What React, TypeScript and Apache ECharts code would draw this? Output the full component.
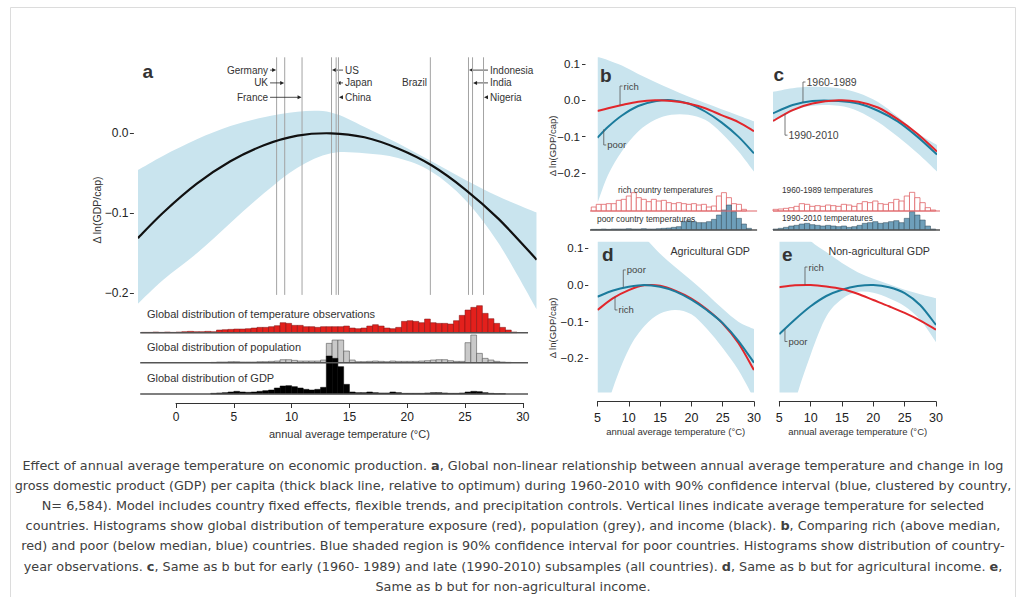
import React, { useEffect, useRef } from 'react';
import * as echarts from 'echarts';

// ---------------- data ----------------
// Panel a: global response function (temperature °C -> Δ ln(GDP/cap))
const A_TEMPS = [-3.3, -1.1, 1.8, 4.7, 7.6, 10.5, 13.4, 16.3, 19.2, 22.1, 25.0, 27.9, 31.2];
const A_RESPONSE = [-0.131, -0.099, -0.063, -0.035, -0.015, -0.003, 0.0, -0.005, -0.019, -0.04, -0.07, -0.107, -0.158];
const A_UPPER = [-0.046, -0.028, -0.0075, 0.009, 0.02, 0.027, 0.026, 0.008, -0.0125, -0.035, -0.058, -0.079, -0.099];
const A_LOWER = [-0.213, -0.183, -0.15, -0.112, -0.075, -0.043, -0.025, -0.025, -0.031, -0.048, -0.083, -0.1375, -0.22];
const A_Y_TICKS = [0, -0.1, -0.2];
const BD_Y_TICKS = [0.1, 0, -0.1, -0.2];

const COUNTRIES = ['Germany', 'UK', 'France', 'US', 'Japan', 'China', 'Brazil', 'Indonesia', 'India', 'Nigeria'];
const COUNTRY_TEMPS = [8.7, 9.4, 10.9, 13.45, 13.85, 14.05, 22.0, 25.3, 25.65, 26.6];

// Panel a histograms: 0.5 °C bins starting at -3 °C (relative heights)
const HIST_START = -3;
const HIST_BIN = 0.5;
const HIST_TEMPERATURE = [
  1, 1, 2, 1, 2, 1, 2, 3, 4, 3, 3, 4, 3, 8, 9, 10, 11, 11, 12, 14, 16, 16, 18, 21,
  30, 28, 22, 22, 18, 18, 16, 18, 18, 18, 18, 20, 14, 12, 14, 20, 24, 20, 14, 12, 16, 34, 36, 34,
  30, 41, 30, 28, 28, 26, 36, 52, 68, 76, 81, 58, 42, 28, 16, 8, 2, 0,
];
const HIST_POPULATION = [
  0, 0, 0, 0, 0, 0, 0, 0, 0, 0, 0, 0, 1, 2, 2, 3, 3, 2, 2, 2, 3, 3, 4, 5,
  9, 9, 7, 5, 5, 5, 5, 8, 58, 68, 68, 35, 8, 3, 3, 4, 5, 4, 3, 5, 4, 4, 4, 4,
  5, 6, 8, 9, 9, 6, 4, 4, 60, 83, 28, 13, 8, 4, 2, 1, 0, 0,
];
const HIST_GDP = [
  0, 0, 0, 0, 0, 0, 0, 0, 0, 0, 0, 0, 2, 3, 4, 6, 8, 6, 5, 6, 8, 10, 12, 18,
  24, 25, 22, 18, 14, 12, 14, 20, 114, 107, 82, 29, 6, 4, 4, 6, 4, 3, 3, 6, 4, 2, 2, 2,
  2, 3, 4, 4, 3, 2, 2, 3, 6, 8, 7, 4, 2, 1, 1, 0, 0, 0,
];

// Panel b: rich vs poor
const B_TEMPS = [5, 6.7, 8.9, 11.5, 14.2, 16.8, 19.5, 22.2, 24.8, 27.5, 30];
const B_POOR = [-0.103, -0.073, -0.042, -0.016, -0.003, 0.0, -0.009, -0.031, -0.061, -0.1, -0.146];
const B_RICH = [-0.03, -0.022, -0.013, -0.004, 0.0, -0.002, -0.009, -0.022, -0.041, -0.06, -0.085];
const B_UPPER = [0.12, 0.11, 0.095, 0.072, 0.05, 0.03, 0.01, -0.008, -0.025, -0.042, -0.058];
const B_LOWER = [-0.283, -0.205, -0.14, -0.086, -0.054, -0.04, -0.04, -0.054, -0.09, -0.14, -0.196];
const B_HIST_START = 4;
const BC_HIST_BIN = 0.8;
const B_HIST_RICH = [12, 20, 20, 22, 22, 32, 35, 45, 55, 40, 35, 28, 35, 30, 32, 25, 22, 25, 22, 20, 22, 18, 20, 12, 15, 45, 55, 40, 22, 20, 5];
const B_HIST_POOR = [2, 2, 3, 2, 3, 3, 3, 4, 3, 3, 4, 3, 3, 4, 5, 6, 8, 10, 25, 28, 25, 22, 22, 25, 32, 45, 60, 75, 55, 35, 18, 5];

// Panel c: early vs late period
const C_TEMPS = [5, 8, 11, 15, 18, 21, 24, 27, 30];
const C_EARLY = [-0.036, -0.013, -0.002, -0.002, -0.009, -0.029, -0.058, -0.1, -0.149];
const C_LATE = [-0.057, -0.027, -0.009, 0.0, -0.004, -0.02, -0.052, -0.092, -0.141];
const C_UPPER = [0.023, 0.033, 0.037, 0.033, 0.02, -0.005, -0.045, -0.09, -0.123];
const C_LOWER = [-0.06, -0.03, -0.015, -0.015, -0.03, -0.06, -0.1, -0.145, -0.196];
const C_HIST_START = 5;
const C_HIST_EARLY = [5, 6, 8, 10, 14, 22, 20, 14, 16, 14, 18, 16, 14, 20, 18, 14, 22, 28, 25, 30, 22, 20, 25, 35, 30, 45, 56, 40, 25, 10, 3];
const C_HIST_LATE = [3, 5, 8, 12, 14, 18, 20, 16, 14, 12, 14, 12, 10, 12, 8, 10, 14, 20, 22, 25, 20, 22, 25, 28, 22, 35, 55, 45, 30, 12, 3];

// Panel d: agricultural GDP
const DE_TEMPS = [5, 7.5, 10, 12.5, 15, 17.5, 20, 22.5, 25, 27.5, 30];
const D_POOR = [-0.032, -0.015, -0.005, 0.0, -0.005, -0.018, -0.04, -0.069, -0.104, -0.152, -0.212];
const D_RICH = [-0.068, -0.036, -0.014, -0.001, -0.002, -0.016, -0.037, -0.067, -0.105, -0.158, -0.232];
const D_UPPER = [0.2, 0.19, 0.17, 0.13, 0.085, 0.048, 0.012, -0.025, -0.065, -0.1, -0.12];
const D_LOWER = [-0.42, -0.28, -0.175, -0.112, -0.078, -0.068, -0.08, -0.12, -0.172, -0.232, -0.31];

// Panel e: non-agricultural GDP
const E_RICH = [-0.006, -0.001, 0.0, -0.004, -0.011, -0.024, -0.041, -0.058, -0.076, -0.097, -0.122];
const E_POOR = [-0.134, -0.094, -0.058, -0.03, -0.013, -0.003, 0.0, -0.006, -0.022, -0.055, -0.109];
const E_UPPER = [0.22, 0.17, 0.12, 0.09, 0.06, 0.035, 0.017, 0.002, -0.013, -0.025, -0.036];
const E_LOWER = [-0.5, -0.32, -0.19, -0.086, -0.038, -0.019, -0.021, -0.036, -0.058, -0.095, -0.156];

// curve annotations: [temperature, value on curve, value at label]
const B_NOTE_TEXT = ['rich', 'poor'];
const B_NOTES = [[8.6, -0.014, 0.039], [6.0, -0.08, -0.123]];
const C_NOTE_TEXT = ['1960-1989', '1990-2010'];
const C_NOTES = [[9.57, -0.007, 0.05], [6.83, -0.038, -0.096]];
const D_NOTE_TEXT = ['poor', 'rich'];
const D_NOTES = [[9.12, -0.006, 0.041], [7.8, -0.032, -0.068]];
const E_NOTE_TEXT = ['rich', 'poor'];
const E_NOTES = [[9.1, 0.0, 0.049], [5.9, -0.12, -0.154]];

const CAPTION_LINES = [
  'Effect of annual average temperature on economic production. {b|a}, Global non-linear relationship between annual average temperature and change in log',
  'gross domestic product (GDP) per capita (thick black line, relative to optimum) during 1960-2010 with 90% confidence interval (blue, clustered by country,',
  'N= 6,584). Model includes country fixed effects, flexible trends, and precipitation controls. Vertical lines indicate average temperature for selected',
  'countries. Histograms show global distribution of temperature exposure (red), population (grey), and income (black). {b|b}, Comparing rich (above median,',
  'red) and poor (below median, blue) countries. Blue shaded region is 90% confidence interval for poor countries. Histograms show distribution of country-',
  'year observations. {b|c}, Same as b but for early (1960- 1989) and late (1990-2010) subsamples (all countries). {b|d}, Same as b but for agricultural income. {b|e},',
  'Same as b but for non-agricultural income.',
];

// ---------------- layout / style ----------------
const F = "'Liberation Sans', Arial, Helvetica, sans-serif";
const CF = "'DejaVu Sans', Verdana, sans-serif";
const BAND = '#c9e4ee';
const POOR_C = '#1b7b9c';
const RICH_C = '#e2262b';
const TXT = '#333';

const COUNTRY_ROW = [0, 1, 2, 0, 1, 2, 1, 0, 1, 2];
const COUNTRY_SIDE = ['L', 'L', 'L', 'R', 'R', 'R', 'N', 'R', 'R', 'R'];
const COUNTRY_ANCHOR_T = [7.96, 7.96, 7.96, 14.62, 14.62, 14.62, 21.71, 27.16, 27.16, 27.16];
const LABEL_ROW_V = [0.079, 0.063, 0.045];
const COUNTRY_LINE_TOP = 0.095;
const COUNTRY_LINE_BOTTOM = -0.202;

function fmtTick(v: number) {
  const s = Math.abs(v).toFixed(1);
  return v < -1e-9 ? '\u2212' + s : s;
}

// Catmull-Rom -> cubic bezier segments through screen points (rendering only)
function bezierThrough(pts: number[][], start: boolean) {
  let d = start ? `M${pts[0][0]},${pts[0][1]}` : `L${pts[0][0]},${pts[0][1]}`;
  for (let i = 0; i < pts.length - 1; i++) {
    const p0 = pts[Math.max(0, i - 1)];
    const p1 = pts[i];
    const p2 = pts[i + 1];
    const p3 = pts[Math.min(pts.length - 1, i + 2)];
    const c1x = p1[0] + (p2[0] - p0[0]) / 6;
    const c1y = p1[1] + (p2[1] - p0[1]) / 6;
    const c2x = p2[0] - (p3[0] - p1[0]) / 6;
    const c2y = p2[1] - (p3[1] - p1[1]) / 6;
    d += ` C${c1x},${c1y} ${c2x},${c2y} ${p2[0]},${p2[1]}`;
  }
  return d;
}

function clipRect(params: any) {
  const cs = params.coordSys;
  return { type: 'rect', shape: { x: cs.x, y: cs.y - 1.5, width: cs.width, height: cs.height + 3 } };
}

function bandSeries(grid: number, temps: number[], lower: number[], upper: number[]) {
  return {
    type: 'custom', xAxisIndex: grid, yAxisIndex: grid, silent: true, z: 1,
    data: [[temps[0], upper[0]]],
    renderItem: (params: any, api: any) => {
      const up = temps.map((t, i) => api.coord([t, upper[i]]));
      const lo = temps.map((t, i) => api.coord([t, lower[i]])).reverse();
      const cs = params.coordSys;
      return {
        type: 'path',
        shape: { pathData: bezierThrough(up, true) + ' ' + bezierThrough(lo, false) + ' Z' },
        style: { fill: BAND, stroke: 'none' },
        clipPath: { type: 'rect', shape: { x: cs.x, y: cs.y, width: cs.width, height: cs.height } },
      };
    },
  };
}

function curveSeries(grid: number, temps: number[], vals: number[], color: string, width: number, z = 4) {
  return {
    type: 'custom', xAxisIndex: grid, yAxisIndex: grid, silent: true, z,
    data: [[temps[0], vals[0]]],
    renderItem: (params: any, api: any) => {
      const pts = temps.map((t, i) => api.coord([t, vals[i]]));
      return {
        type: 'path',
        shape: { pathData: bezierThrough(pts, true) },
        style: { fill: 'none', stroke: color, lineWidth: width, lineCap: 'butt' },
        clipPath: clipRect(params),
      };
    },
  };
}

function histSeries(grid: number, start: number, bin: number, values: number[], fill: string, stroke: string, lw: number) {
  return {
    type: 'custom', xAxisIndex: grid, yAxisIndex: grid, silent: true, z: 2,
    data: values.map((v, i) => [start + i * bin, v]),
    renderItem: (params: any, api: any) => {
      const x0 = api.value(0);
      const v = api.value(1);
      if (!v) return null;
      const a = api.coord([x0, v]);
      const b = api.coord([x0 + bin, 0]);
      return {
        type: 'rect',
        shape: { x: a[0], y: a[1], width: b[0] - a[0], height: b[1] - a[1] },
        style: { fill, stroke, lineWidth: lw },
      };
    },
  };
}

function baselineSeries(grid: number, x0: number, x1: number, color: string, width: number) {
  return {
    type: 'line', xAxisIndex: grid, yAxisIndex: grid, data: [[x0, 0], [x1, 0]], symbol: 'none',
    clip: false, silent: true, z: 3, lineStyle: { color, width },
  };
}

function noteSeries(grid: number, notes: number[][], texts: string[], fontSize: number) {
  return {
    type: 'custom', xAxisIndex: grid, yAxisIndex: grid, silent: true, z: 6,
    data: notes,
    renderItem: (params: any, api: any) => {
      const t = api.value(0);
      const p0 = api.coord([t, api.value(1)]);
      const p1 = api.coord([t, api.value(2)]);
      return {
        type: 'group',
        children: [
          {
            type: 'polyline',
            shape: { points: [p0, p1, [p1[0] + 2.5, p1[1]]] },
            style: { stroke: '#555', lineWidth: 0.8, fill: 'none' },
          },
          {
            type: 'text',
            style: {
              text: texts[params.dataIndex], x: p1[0] + 3.5, y: p1[1],
              align: 'left', textAlign: 'left', verticalAlign: 'middle', textVerticalAlign: 'middle',
              fontSize, fontFamily: F, fill: '#444',
            },
          },
        ],
      };
    },
  };
}

function countrySeries() {
  return {
    type: 'custom', xAxisIndex: 0, yAxisIndex: 0, silent: true, z: 3,
    data: COUNTRY_TEMPS.map((t) => [t, 0]),
    renderItem: (params: any, api: any) => {
      const i = params.dataIndex;
      const t = api.value(0);
      const top = api.coord([t, COUNTRY_LINE_TOP]);
      const bot = api.coord([t, COUNTRY_LINE_BOTTOM]);
      const lx = top[0];
      const y = api.coord([t, LABEL_ROW_V[COUNTRY_ROW[i]]])[1];
      const ax = api.coord([COUNTRY_ANCHOR_T[i], 0])[0];
      const side = COUNTRY_SIDE[i];
      const children: any[] = [
        { type: 'line', shape: { x1: lx, y1: top[1], x2: lx, y2: bot[1] }, style: { stroke: '#a3a3a3', lineWidth: 1 } },
      ];
      const textStyle = {
        text: COUNTRIES[i], y, verticalAlign: 'middle', textVerticalAlign: 'middle',
        fontSize: 10, fontFamily: F, fill: TXT,
      };
      if (side === 'L') {
        children.push({ type: 'text', style: { ...textStyle, x: ax, align: 'right', textAlign: 'right' } });
        children.push({ type: 'line', shape: { x1: ax + 2, y1: y, x2: lx - 3, y2: y }, style: { stroke: '#222', lineWidth: 0.8 } });
        children.push({ type: 'polygon', shape: { points: [[lx - 0.5, y], [lx - 4.5, y - 2], [lx - 4.5, y + 2]] }, style: { fill: '#222' } });
      } else if (side === 'R') {
        children.push({ type: 'text', style: { ...textStyle, x: ax, align: 'left', textAlign: 'left' } });
        children.push({ type: 'line', shape: { x1: ax - 2, y1: y, x2: lx + 3, y2: y }, style: { stroke: '#222', lineWidth: 0.8 } });
        children.push({ type: 'polygon', shape: { points: [[lx + 0.5, y], [lx + 4.5, y - 2], [lx + 4.5, y + 2]] }, style: { fill: '#222' } });
      } else {
        children.push({ type: 'text', style: { ...textStyle, x: ax, align: 'right', textAlign: 'right' } });
      }
      return { type: 'group', children };
    },
  };
}

function text(x: number, y: number, str: string, size: number, opts: any = {}) {
  return {
    type: 'text', x, y, rotation: opts.rotation || 0, silent: true, z: 10,
    style: {
      text: str, fontSize: size, fontFamily: opts.family || F, fontWeight: opts.weight || 'normal',
      fill: opts.color || TXT, align: opts.align || 'left', textAlign: opts.align || 'left',
      verticalAlign: 'middle', textVerticalAlign: 'middle', rich: opts.rich,
    },
  };
}

function buildOption() {
  const grids = [
    { left: 137.9, top: 57.3, width: 398.8, height: 264 }, // 0 a curve
    { left: 137.9, top: 292.7, width: 398.8, height: 40 }, // 1 temperature hist
    { left: 137.9, top: 322.7, width: 398.8, height: 40 }, // 2 population hist
    { left: 137.9, top: 354, width: 398.8, height: 40 }, // 3 GDP hist
    { left: 176, top: 402, width: 346.8, height: 1 }, // 4 a axis
    { left: 597.5, top: 57.25, width: 156.5, height: 144.9 }, // 5 b
    { left: 590, top: 186, width: 167.1, height: 25 }, // 6 b rich hist
    { left: 590, top: 205, width: 167.1, height: 25 }, // 7 b poor hist
    { left: 773, top: 57.25, width: 164, height: 144.9 }, // 8 c
    { left: 773, top: 186, width: 167, height: 25 }, // 9 c early hist
    { left: 773, top: 205, width: 167, height: 25 }, // 10 c late hist
    { left: 597.5, top: 241.7, width: 156.5, height: 150.8 }, // 11 d
    { left: 779.3, top: 241.7, width: 156.7, height: 150.8 }, // 12 e
  ];
  const xr = [[-3.3, 31.2], [-3.3, 31.2], [-3.3, 31.2], [-3.3, 31.2], [0, 30], [5, 30], [3.8, 30.5], [3.8, 30.5], [5, 30], [5, 30.45], [5, 30.45], [5, 30], [5, 30]];
  const yr = [[-0.235, 0.095], [0, 120], [0, 120], [0, 120], [0, 1], [-0.28, 0.118], [0, 75], [0, 75], [-0.28, 0.118], [0, 75], [0, 75], [-0.293, 0.118], [-0.293, 0.118]];
  const xAxis: any[] = xr.map((r, i) => ({ type: 'value', gridIndex: i, min: r[0], max: r[1], show: false, axisLine: { onZero: false }, splitLine: { show: false } }));
  const yAxis: any[] = yr.map((r, i) => ({ type: 'value', gridIndex: i, min: r[0], max: r[1], show: false, axisLine: { onZero: false }, splitLine: { show: false } }));

  const xName = 'annual average temperature (\u00B0C)';
  xAxis[4] = {
    type: 'value', gridIndex: 4, min: 0, max: 30, interval: 5, position: 'bottom',
    axisLine: { show: true, onZero: false, lineStyle: { color: '#333', width: 1 } },
    axisTick: { show: true, inside: false, length: 5, lineStyle: { color: '#333' } },
    axisLabel: { fontSize: 12, margin: 8, color: '#222', fontFamily: F },
    splitLine: { show: false },
    name: xName, nameLocation: 'middle', nameGap: 25,
    nameTextStyle: { fontSize: 11, fontFamily: F, color: TXT },
  };
  const deX = (grid: number) => ({
    type: 'value', gridIndex: grid, min: 5, max: 30, interval: 5, position: 'bottom', offset: 9,
    axisLine: { show: true, onZero: false, lineStyle: { color: '#333', width: 1 } },
    axisTick: { show: true, inside: false, length: 5, lineStyle: { color: '#333' } },
    axisLabel: { fontSize: 12.5, margin: 10, color: '#222', fontFamily: F },
    splitLine: { show: false },
    name: xName, nameLocation: 'middle', nameGap: 25,
    nameTextStyle: { fontSize: 9.5, fontFamily: F, color: TXT },
  });
  xAxis[11] = deX(11);
  xAxis[12] = deX(12);

  const yVis = (grid: number, r: number[], ticks: number[], offset: number, size: number, len: number, margin: number) => ({
    type: 'value', gridIndex: grid, min: r[0], max: r[1], position: 'left', offset,
    axisLine: { show: false, onZero: false },
    axisTick: { show: true, length: len, customValues: ticks, lineStyle: { color: '#333' } },
    axisLabel: { customValues: ticks, formatter: fmtTick, fontSize: size, fontFamily: F, color: '#222', margin },
    splitLine: { show: false },
  });
  yAxis[0] = yVis(0, yr[0], A_Y_TICKS, 4, 12, 4, 5.5);
  yAxis[5] = yVis(5, yr[5], BD_Y_TICKS, 12, 11.5, 3.5, 5.5);
  yAxis[11] = yVis(11, yr[11], BD_Y_TICKS, 9.2, 11.5, 3.3, 5);

  const series: any[] = [
    // panel a
    bandSeries(0, A_TEMPS, A_LOWER, A_UPPER),
    countrySeries(),
    curveSeries(0, A_TEMPS, A_RESPONSE, '#111', 2.2),
    histSeries(1, HIST_START, HIST_BIN, HIST_TEMPERATURE, '#e3201c', '#7a0c0c', 0.5),
    histSeries(2, HIST_START, HIST_BIN, HIST_POPULATION, '#c9c9c9', '#555', 0.6),
    histSeries(3, HIST_START, HIST_BIN, HIST_GDP, '#000', '#000', 0.5),
    baselineSeries(1, -3.1, 30.45, '#555', 1.5),
    baselineSeries(2, -3.1, 30.45, '#555', 1.5),
    baselineSeries(3, -3.1, 30.45, '#555', 1.5),
    // panel b
    bandSeries(5, B_TEMPS, B_LOWER, B_UPPER),
    curveSeries(5, B_TEMPS, B_POOR, POOR_C, 2),
    curveSeries(5, B_TEMPS, B_RICH, RICH_C, 2, 5),
    noteSeries(5, B_NOTES, B_NOTE_TEXT, 9.5),
    histSeries(6, B_HIST_START, BC_HIST_BIN, B_HIST_RICH, '#ffffff', '#e06468', 0.8),
    histSeries(7, B_HIST_START, BC_HIST_BIN, B_HIST_POOR, '#6e9fba', '#2d4654', 0.5),
    baselineSeries(6, 3.8, 30.5, '#e06468', 1.2),
    baselineSeries(7, 3.8, 30.5, '#555', 1.5),
    // panel c
    bandSeries(8, C_TEMPS, C_LOWER, C_UPPER),
    curveSeries(8, C_TEMPS, C_EARLY, POOR_C, 2),
    curveSeries(8, C_TEMPS, C_LATE, RICH_C, 2, 5),
    noteSeries(8, C_NOTES, C_NOTE_TEXT, 10.5),
    histSeries(9, C_HIST_START, BC_HIST_BIN, C_HIST_EARLY, '#ffffff', '#e06468', 0.8),
    histSeries(10, C_HIST_START, BC_HIST_BIN, C_HIST_LATE, '#6e9fba', '#2d4654', 0.5),
    baselineSeries(9, 5, 30.45, '#e06468', 1.2),
    baselineSeries(10, 5, 30.45, '#555', 1.5),
    // panel d
    bandSeries(11, DE_TEMPS, D_LOWER, D_UPPER),
    curveSeries(11, DE_TEMPS, D_RICH, RICH_C, 2),
    curveSeries(11, DE_TEMPS, D_POOR, POOR_C, 2, 5),
    noteSeries(11, D_NOTES, D_NOTE_TEXT, 9.5),
    // panel e
    bandSeries(12, DE_TEMPS, E_LOWER, E_UPPER),
    curveSeries(12, DE_TEMPS, E_POOR, POOR_C, 2),
    curveSeries(12, DE_TEMPS, E_RICH, RICH_C, 2, 5),
    noteSeries(12, E_NOTES, E_NOTE_TEXT, 9.5),
  ];

  const yName = '\u0394 ln(GDP/cap)';
  const bold = { weight: 'bold' };
  const graphic: any[] = [
    { type: 'rect', shape: { x: 10.5, y: 7.5, width: 1005, height: 600 }, style: { fill: 'none', stroke: '#dcdcdc', lineWidth: 1 }, silent: true, z: 0 },
    text(142.5, 71.5, 'a', 19, bold),
    text(600, 75, 'b', 19, bold),
    text(773.5, 74.5, 'c', 19, bold),
    text(602, 254, 'd', 19, bold),
    text(782, 254.5, 'e', 19, bold),
    text(97, 210, yName, 10.5, { rotation: Math.PI / 2, align: 'center' }),
    text(552, 146, yName, 9.5, { rotation: Math.PI / 2, align: 'center' }),
    text(552, 328, yName, 9.5, { rotation: Math.PI / 2, align: 'center' }),
    text(147, 314, 'Global distribution of temperature observations', 11),
    text(147, 347, 'Global distribution of population', 11),
    text(147, 378, 'Global distribution of GDP', 11),
    text(618, 190, 'rich country temperatures', 8.4),
    text(597, 219, 'poor country temperatures', 8.4),
    text(782, 190, '1960-1989 temperatures', 8.3),
    text(782, 218, '1990-2010 temperatures', 8.3),
    text(750, 251, 'Agricultural GDP', 10.7, { align: 'right' }),
    text(930, 251, 'Non-agricultural GDP', 10.7, { align: 'right' }),
  ];
  CAPTION_LINES.forEach((line, i) => {
    graphic.push(
      text(513, 465 + i * 20.2, line, 12.8, {
        family: CF, align: 'center', color: '#404040',
        rich: { b: { fontWeight: 'bold', fontSize: 12.8, fontFamily: CF, fill: '#404040', color: '#404040' } },
      }),
    );
  });

  return {
    animation: false,
    backgroundColor: '#ffffff',
    grid: grids,
    xAxis,
    yAxis,
    series,
    graphic,
  };
}

export default function App() {
  const ref = useRef<HTMLDivElement>(null);
  useEffect(() => {
    if (!ref.current) return;
    const chart = echarts.init(ref.current, null, { renderer: 'svg' });
    chart.setOption(buildOption() as any);
    return () => chart.dispose();
  }, []);
  return (
    <div
      ref={ref}
      style={{ position: 'absolute', left: 0, top: 0, width: 1021, height: 597, background: '#fff' }}
    />
  );
}
